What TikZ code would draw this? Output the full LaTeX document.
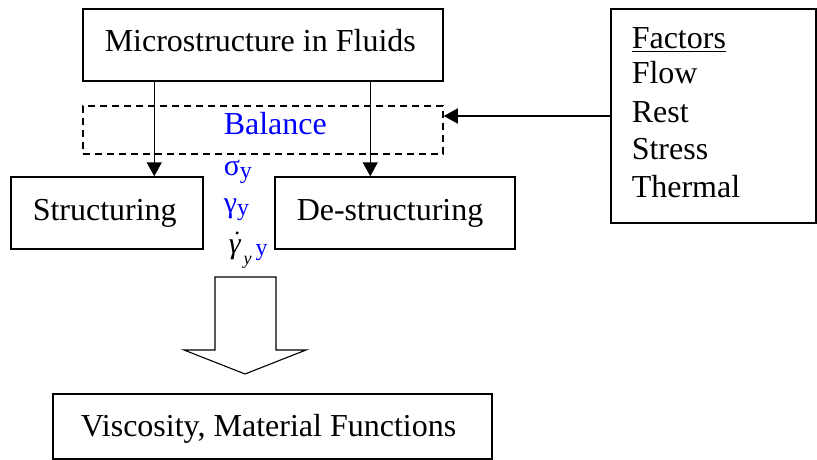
\documentclass[tikz,border=0pt]{standalone}
\usepackage{fontspec}
\setmainfont{Liberation Serif}
\usetikzlibrary{arrows.meta,calc}
\definecolor{pureblue}{RGB}{0,0,255}
\begin{document}
\begin{tikzpicture}[x=1pt,y=-1pt,line width=1.5pt,
  box/.style={draw,rectangle,inner sep=0pt},
  txt/.style={anchor=base west,inner sep=0pt,font=\fontsize{32}{38}\selectfont},
  grk/.style={anchor=base west,inner sep=0pt,text=pureblue,font=\fontsize{30}{34}\selectfont},
  arr/.style={-{Triangle[length=14pt,width=15pt]}}]
\useasboundingbox (0,0) rectangle (817,460);
% boxes
\node[box,minimum width=360pt,minimum height=72pt] (micro) at (263,45) {};
\node[box,dash pattern=on 7pt off 5pt,minimum width=360pt,minimum height=48pt] (bal) at (263,130) {};
\node[box,minimum width=192pt,minimum height=72pt] (struct) at (107,213) {};
\node[box,minimum width=240pt,minimum height=72pt] (destr) at (395,213) {};
\node[box,minimum width=205pt,minimum height=214pt] (fact) at (713.5,116) {};
\node[box,minimum width=439pt,minimum height=65pt] (visc) at (272.5,426.5) {};
% texts
\node[txt] (tmicro) at (104,52) {Microstructure in Fluids};
\node[txt,text=pureblue] (tbal) at (223,134) {Balance};
\node[txt] (tstruct) at (32,220) {Structuring};
\node[txt] (tdestr) at (296,220) {De-structuring};
\node[txt] (tfac) at (631,49) {\underline{Factors}};
\node[txt] (tflow) at (631,84) {Flow};
\node[txt] (trest) at (631,122) {Rest};
\node[txt] (tstress) at (631,159) {Stress};
\node[txt] (ttherm) at (631,197) {Thermal};
\node[txt] (tvisc) at (80,436) {Viscosity, Material Functions};
% greek
\node[grk] (sig) at (223,175) {σ\raisebox{-3pt}{\fontsize{24}{26}\selectfont y}};
\node[grk] (gam) at (223,212) {γ\raisebox{-3pt}{\fontsize{24}{26}\selectfont y}};
\node[grk,text=black] (gdot) at (228,253) {\itshape\rlap{\hspace{6pt}\raisebox{19pt}{\fontsize{24}{24}\selectfont .}}γ\hspace{3pt}\raisebox{-11pt}{\fontsize{18}{20}\selectfont y}\hspace{4pt}\upshape\raisebox{-2pt}{\fontsize{24}{26}\selectfont\color{pureblue}y}};
% connectors
\coordinate (s1) at ($(micro.south west)+(72,0)$);
\coordinate (s2) at ($(micro.south west)+(288,0)$);
\draw[arr] (s1) -- (s1 |- struct.north);
\draw[arr] (s2) -- (s2 |- destr.north);
\draw[arr] (fact.west) -- (fact.west -| bal.east);
% hollow arrow
\draw[line width=1.1pt] (215,277) -- (276,277) -- (276,350) -- (306,350) -- (245,374) -- (184,350) -- (215,350) -- cycle;
\end{tikzpicture}
\end{document}
